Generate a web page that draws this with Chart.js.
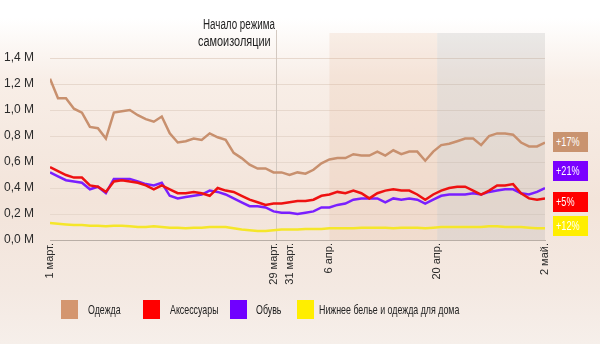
<!DOCTYPE html>
<html>
<head>
<meta charset="utf-8">
<script src="https://cdn.jsdelivr.net/npm/chart.js@4/dist/chart.umd.min.js"></script>
<style>
  html, body { margin: 0; padding: 0; }
  body {
    width: 600px; height: 344px; position: relative; overflow: hidden;
    font-family: "Liberation Sans", "DejaVu Sans", sans-serif;
    background: linear-gradient(to bottom, #ffffff 0px, #ffffff 18px, #f8eee7 80px, #f3e4da 200px, #f4e9e2 290px, #f6efea 344px);
  }
  #wrap { position: absolute; left: 0; top: 0; width: 600px; height: 344px; }
  .narrow { display: inline-block; transform: scaleX(0.7); transform-origin: left center; white-space: nowrap; }
  .note { position: absolute; left: 203px; top: 16px; font-size: 14px; line-height: 17px; color: #222; }
  .tag { position: absolute; left: 553px; width: 35px; height: 20px; color: #fff; font-size: 13px; line-height: 20px; padding-left: 3px; box-sizing: border-box; overflow: hidden; }
  .legend { position: absolute; top: 300px; left: 61px; height: 19px; font-size: 13px; color: #222; }
  .legend .sw { position: absolute; top: 0; width: 17px; height: 19px; }
  .legend .tx { position: absolute; top: 1px; line-height: 17px; }
  .legend .narrow { transform: scaleX(0.68); }
</style>
</head>
<body>
<div id="wrap"><canvas id="chart" width="600" height="344"></canvas></div>
<div class="note"><span class="narrow">Начало режима</span><br><span class="narrow" style="margin-left:-5px;transform:scaleX(0.78)">самоизоляции</span></div>
<div class="tag" style="top:132px;background:#c9936f"><span class="narrow">+17%</span></div>
<div class="tag" style="top:161px;background:#7a00ff"><span class="narrow">+21%</span></div>
<div class="tag" style="top:192px;background:#ff0000"><span class="narrow">+5%</span></div>
<div class="tag" style="top:216px;background:#ffee00"><span class="narrow">+12%</span></div>
<div class="legend">
  <div class="sw" style="left:0;background:#d4966f"></div><div class="tx" style="left:27px"><span class="narrow">Одежда</span></div>
  <div class="sw" style="left:82px;background:#ff0000"></div><div class="tx" style="left:109px"><span class="narrow">Аксессуары</span></div>
  <div class="sw" style="left:169px;background:#7000ff"></div><div class="tx" style="left:195px"><span class="narrow">Обувь</span></div>
  <div class="sw" style="left:236px;background:#ffee00"></div><div class="tx" style="left:258px"><span class="narrow">Нижнее белье и одежда для дома</span></div>
</div>
<script>
'use strict';

// ── data: one value per day, 1 March .. 2 May (millions) ──
const clothing = [1.24, 1.09, 1.09, 1.01, 0.98, 0.87, 0.86, 0.78, 0.98, 0.99,
  1.00, 0.96, 0.93, 0.91, 0.95, 0.82, 0.75, 0.76, 0.78, 0.77,
  0.82, 0.79, 0.77, 0.67, 0.63, 0.58, 0.55, 0.55, 0.52, 0.52,
  0.50, 0.52, 0.51, 0.54, 0.59, 0.62, 0.63, 0.63, 0.66, 0.65,
  0.65, 0.68, 0.65, 0.69, 0.66, 0.68, 0.68, 0.61, 0.68, 0.73,
  0.74, 0.76, 0.78, 0.78, 0.73, 0.80, 0.82, 0.82, 0.81, 0.75,
  0.72, 0.72, 0.75];
const accessories = [0.56, 0.53, 0.50, 0.48, 0.48, 0.42, 0.41, 0.37, 0.45, 0.46,
  0.45, 0.44, 0.42, 0.39, 0.42, 0.39, 0.36, 0.36, 0.37, 0.36,
  0.34, 0.40, 0.38, 0.37, 0.34, 0.31, 0.29, 0.27, 0.28, 0.28,
  0.29, 0.30, 0.30, 0.31, 0.34, 0.35, 0.37, 0.36, 0.38, 0.36,
  0.32, 0.36, 0.38, 0.39, 0.38, 0.38, 0.35, 0.31, 0.35, 0.38,
  0.40, 0.41, 0.41, 0.38, 0.35, 0.38, 0.42, 0.42, 0.43, 0.36,
  0.32, 0.31, 0.32];
const shoes = [0.52, 0.49, 0.46, 0.45, 0.44, 0.39, 0.41, 0.36, 0.47, 0.47,
  0.47, 0.45, 0.43, 0.42, 0.44, 0.34, 0.32, 0.33, 0.34, 0.35,
  0.38, 0.37, 0.35, 0.32, 0.29, 0.26, 0.26, 0.25, 0.22, 0.21,
  0.21, 0.20, 0.21, 0.22, 0.25, 0.25, 0.27, 0.28, 0.31, 0.32,
  0.32, 0.32, 0.29, 0.32, 0.31, 0.32, 0.31, 0.28, 0.31, 0.34,
  0.35, 0.35, 0.35, 0.36, 0.35, 0.37, 0.38, 0.39, 0.39, 0.36,
  0.35, 0.37, 0.40];
const underwear = [0.13, 0.125, 0.12, 0.115, 0.115, 0.11, 0.11, 0.105, 0.11, 0.11,
  0.105, 0.10, 0.10, 0.105, 0.10, 0.095, 0.095, 0.09, 0.095, 0.095,
  0.10, 0.10, 0.10, 0.09, 0.08, 0.075, 0.07, 0.07, 0.075, 0.08,
  0.08, 0.08, 0.085, 0.085, 0.085, 0.09, 0.09, 0.09, 0.09, 0.095,
  0.095, 0.095, 0.095, 0.09, 0.095, 0.095, 0.095, 0.09, 0.095, 0.10,
  0.10, 0.10, 0.10, 0.10, 0.10, 0.105, 0.105, 0.10, 0.10, 0.10,
  0.095, 0.09, 0.09];

const seriesNames = ['Одежда', 'Аксессуары', 'Обувь', 'Нижнее белье и одежда для дома'];
const seriesColors = ['#c8906e', '#ee1111', '#7a1fff', '#f5e62a'];

// x ticks (day index from 1 March) and their labels
const xTickDays = [0, 28, 30, 35, 48.5, 62];
const xTickLabels = ['1 март.', '29 март.', '31 март.', '6 апр.', '20 апр.', '2 май.'];
const yTicks = [0, 0.2, 0.4, 0.6, 0.8, 1.0, 1.2, 1.4];

// shaded periods and lockdown marker, in day units
const lockdownDay = 28.3;
const bandOrange = [35, 48.5];
const bandGrey = [48.5, 62];

const FONT = '"Liberation Sans", "DejaVu Sans", sans-serif';

const toPoints = arr => arr.map((v, i) => ({ x: i, y: v }));

const backdrop = {
  id: 'backdrop',
  beforeDatasetsDraw(chart) {
    const { ctx, chartArea, scales } = chart;
    const x = scales.x, top = chartArea.top + 1, bottom = chartArea.bottom;
    ctx.save();
    ctx.fillStyle = 'rgba(225,170,135,0.17)';
    ctx.fillRect(x.getPixelForValue(bandOrange[0]), top,
      x.getPixelForValue(bandOrange[1]) - x.getPixelForValue(bandOrange[0]), bottom - top);
    ctx.fillStyle = 'rgba(150,150,150,0.18)';
    ctx.fillRect(x.getPixelForValue(bandGrey[0]), top,
      x.getPixelForValue(bandGrey[1]) - x.getPixelForValue(bandGrey[0]), bottom - top);
    // lockdown start line
    const lx = Math.round(x.getPixelForValue(lockdownDay)) + 0.5;
    ctx.strokeStyle = '#d3c9c1';
    ctx.lineWidth = 1;
    ctx.beginPath();
    ctx.moveTo(lx, top - 3);
    ctx.lineTo(lx, bottom);
    ctx.stroke();
    ctx.restore();
  }
};

new Chart(document.getElementById('chart'), {
  type: 'line',
  data: {
    datasets: [clothing, accessories, shoes, underwear].map((arr, i) => ({
      label: seriesNames[i],
      data: toPoints(arr),
      borderColor: seriesColors[i],
      borderWidth: 2.5,
      pointRadius: 0,
      tension: 0,
      fill: false
    }))
  },
  options: {
    responsive: false,
    animation: false,
    layout: { padding: { left: 4, right: 55, top: 32, bottom: 0 } },
    plugins: { legend: { display: false }, tooltip: { enabled: false } },
    scales: {
      x: {
        type: 'linear',
        min: 0,
        max: 62,
        afterBuildTicks: s => { s.ticks = xTickDays.map(v => ({ value: v })); },
        afterFit: s => { s.height = 104; },
        grid: { display: false, drawTicks: false },
        border: { display: true, color: '#b9aea6', width: 1 },
        ticks: {
          autoSkip: false,
          minRotation: 90,
          maxRotation: 90,
          padding: 3,
          color: '#2a2a2a',
          font: { family: FONT, size: 11 },
          callback: v => xTickLabels[xTickDays.indexOf(v)] || ''
        }
      },
      y: {
        min: 0,
        max: 1.6,
        afterBuildTicks: s => { s.ticks = yTicks.map(v => ({ value: v })); },
        afterFit: s => { s.width = 46; },
        grid: { color: '#e7d8cd', lineWidth: 1, drawTicks: false },
        border: { display: false },
        ticks: {
          padding: 16,
          color: '#2a2a2a',
          font: { family: FONT, size: 12 },
          callback: v => v.toFixed(1).replace('.', ',') + ' M'
        }
      }
    }
  },
  plugins: [backdrop]
});
</script>
</body>
</html>
